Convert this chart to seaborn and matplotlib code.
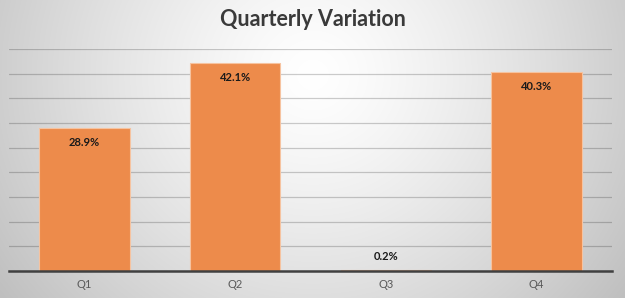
import numpy as np
import pandas as pd
import matplotlib
matplotlib.use("Agg")
import matplotlib.pyplot as plt
import seaborn as sns

categories = ["Q1", "Q2", "Q3", "Q4"]
values = [28.9, 42.1, 0.2, 40.3]
labels = ["28.9%", "42.1%", "0.2%", "40.3%"]
title = "Quarterly Variation"

sns.set_theme(style="white")
plt.rcParams["font.family"] = ["Lato", "DejaVu Sans"]

df = pd.DataFrame({"quarter": categories, "value": values})

fig = plt.figure(figsize=(6.25, 2.98), dpi=100)

# radial gradient background
bg = fig.add_axes([0, 0, 1, 1], zorder=0)
h, w = 298, 625
yy, xx = np.mgrid[0:h, 0:w]
cx, cy = w / 2, h * 0.25
r = np.sqrt(((xx - cx) / (w * 0.62)) ** 2 + ((yy - cy) / (h * 1.25)) ** 2)
r = np.clip(r, 0, 1)
shade = 1.0 - 0.25 * r ** 1.3
img = np.dstack([shade, shade, shade])
bg.imshow(img, aspect="auto", extent=[0, 1, 0, 1], interpolation="bilinear")
bg.set_axis_off()

ax = fig.add_axes([9 / 625, 27 / 298, 603 / 625, 222 / 298], zorder=1)
ax.patch.set_alpha(0)

sns.barplot(data=df, x="quarter", y="value", color="#ED8B4B", width=0.6,
            edgecolor="#F6C3A0", linewidth=0.8, saturation=1, ax=ax, zorder=3)

ax.set_ylim(0, 45)
ax.set_xlim(-0.5, 3.5)
ax.set_yticks(np.arange(0, 46, 5))
ax.set_yticklabels([])
ax.yaxis.grid(True, color="#000000", alpha=0.2, linewidth=0.9)
ax.set_axisbelow(True)
for s in ["top", "right", "left"]:
    ax.spines[s].set_visible(False)
ax.spines["bottom"].set_color("#404040")
ax.spines["bottom"].set_linewidth(1.8)
ax.spines["bottom"].set_zorder(5)
ax.tick_params(axis="x", length=0, pad=6, labelsize=8, labelcolor="#595959")
ax.tick_params(axis="y", length=0)
ax.set_xlabel("")
ax.set_ylabel("")

for i, (v, lab) in enumerate(zip(values, labels)):
    off = -10 if v > 3 else 10
    ax.annotate(lab, (i, v), xytext=(0, off), textcoords="offset points",
                ha="center", va="center", fontsize=8, fontweight="bold",
                color="#1a1a1a", zorder=6)

fig.text(0.5, 1 - 20 / 298, title, ha="center", va="center", fontsize=15.5,
         fontweight="bold", color="#3a3a3a")

fig.savefig("out.png", dpi=100)
